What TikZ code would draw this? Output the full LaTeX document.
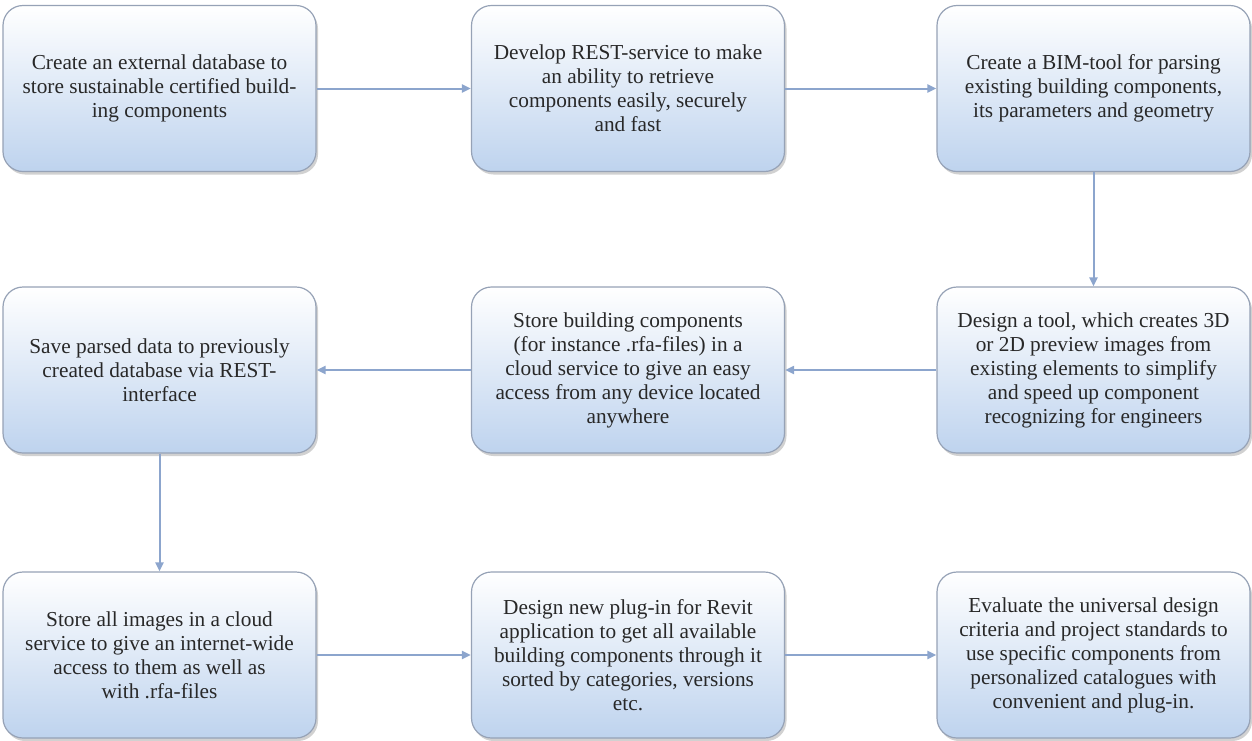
\documentclass[tikz,border=0pt]{standalone}
\usepackage{fontspec}
\setmainfont{Liberation Serif}
\usetikzlibrary{shadows,arrows.meta}
\definecolor{boxbot}{RGB}{190,211,238}
\definecolor{boxline}{RGB}{150,162,182}
\definecolor{arrowcol}{RGB}{140,165,205}
\definecolor{txt}{RGB}{40,40,40}
\begin{document}
\begin{tikzpicture}[x=1pt,y=-1pt,
  stepbox/.style={rectangle, rounded corners=20pt, minimum width=313pt, minimum height=166pt,
    draw=boxline, line width=1.2pt, top color=white, bottom color=boxbot,
    drop shadow={shadow xshift=2pt, shadow yshift=-3pt, fill=black!40, opacity=0.45},
    align=center, text=txt, font=\fontsize{21.3}{24}\selectfont, inner sep=4pt},
  flow/.style={draw=arrowcol, line width=2pt, -{Triangle[length=9pt,width=8pt]}}]
\useasboundingbox (0,0) rectangle (1252,740);
\node[stepbox] (a) at (159.5,88.5) {Create an external database to\\store sustainable certified build-\\ing components};
\node[stepbox] (b) at (628,88.5) {Develop REST-service to make\\an ability to retrieve\\components easily, securely\\and fast};
\node[stepbox] (c) at (1093.5,88.5) {Create a BIM-tool for parsing\\existing building components,\\its parameters and geometry};
\node[stepbox] (d) at (1093.5,370) {Design a tool, which creates 3D\\or 2D preview images from\\existing elements to simplify\\and speed up component\\recognizing for engineers};
\node[stepbox] (e) at (628,370) {Store building components\\(for instance .rfa-files) in a\\cloud service to give an easy\\access from any device located\\anywhere};
\node[stepbox] (f) at (159.5,370) {Save parsed data to previously\\created database via REST-\\interface};
\node[stepbox] (g) at (159.5,655) {Store all images in a cloud\\service to give an internet-wide\\access to them as well as\\with .rfa-files};
\node[stepbox] (h) at (628,655) {Design new plug-in for Revit\\application to get all available\\building components through it\\sorted by categories, versions\\etc.};
\node[stepbox] (i) at (1093.5,655) {Evaluate the universal design\\criteria and project standards to\\use specific components from\\personalized catalogues with\\convenient and plug-in.};
\draw[flow] (a) -- (b);
\draw[flow] (b) -- (c);
\draw[flow] (c) -- (d);
\draw[flow] (d) -- (e);
\draw[flow] (e) -- (f);
\draw[flow] (f) -- (g);
\draw[flow] (g) -- (h);
\draw[flow] (h) -- (i);
\end{tikzpicture}
\end{document}
